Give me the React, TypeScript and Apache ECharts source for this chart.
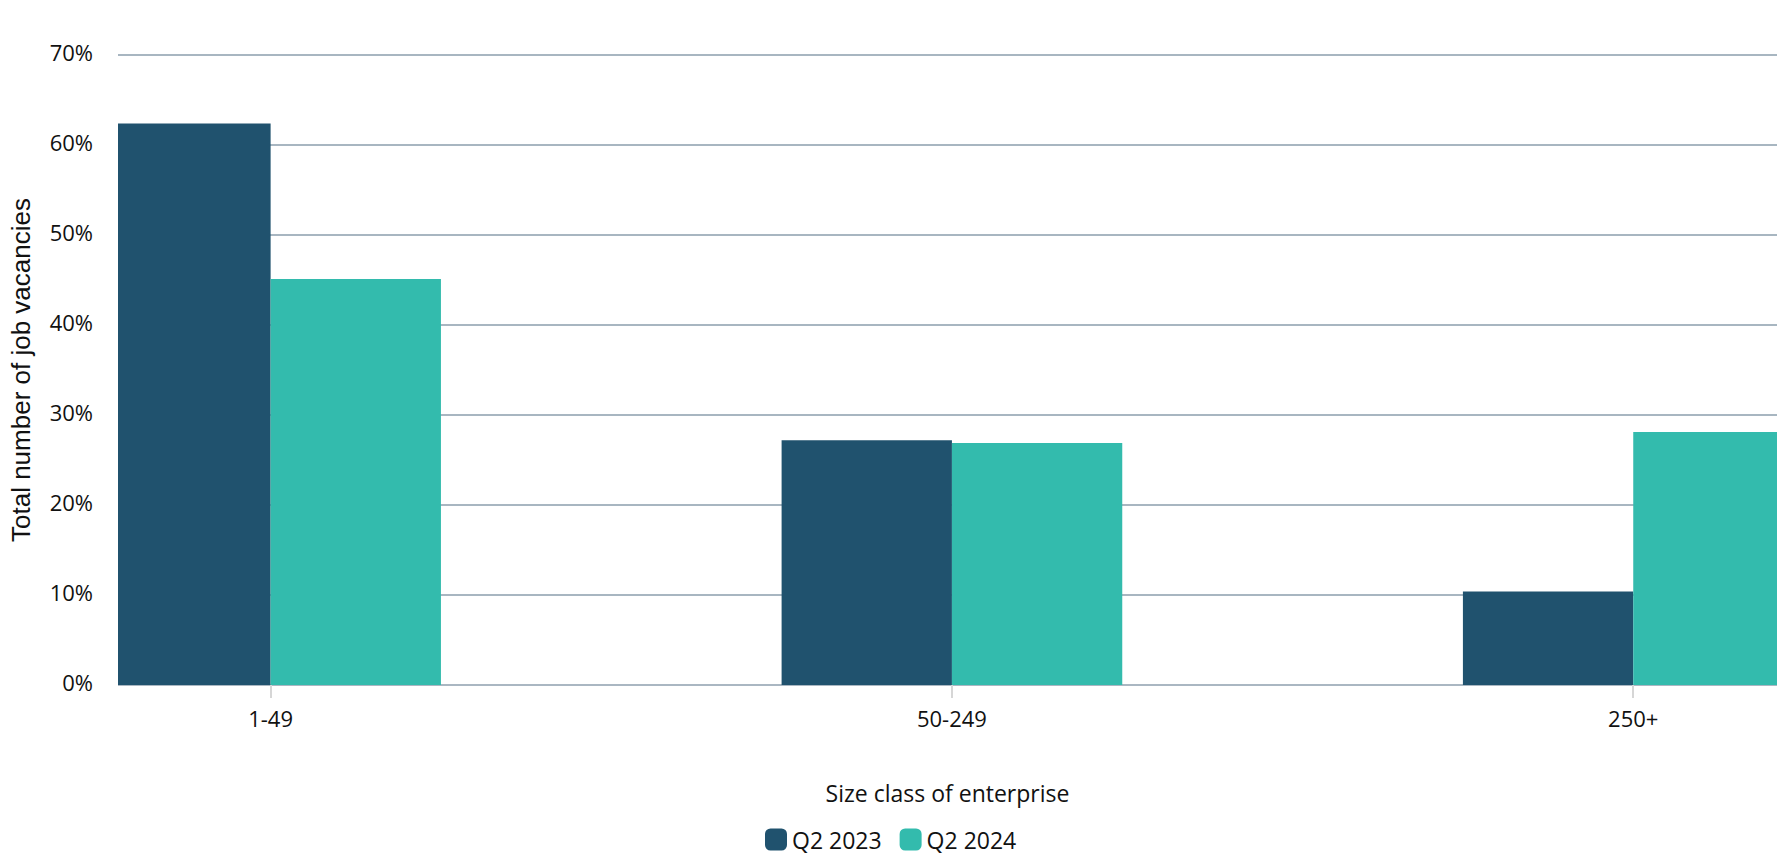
import React, { useEffect, useRef } from "react";
import * as echarts from "echarts";

const categories = ["1-49", "50-249", "250+"];
const categoryPositions = [0, 1, 2];
const seriesNames = ["Q2 2023", "Q2 2024"];
const q2023 = [62.4, 27.2, 10.4];
const q2024 = [45.1, 26.9, 28.1];
const yTicks = [0, 10, 20, 30, 40, 50, 60, 70];

const COLORS = ["#20526e", "#33bbad"];
const FONT = "'Open Sans', 'Noto Sans', sans-serif";
const X_MIN = -0.224;
const X_MAX = 2.211;

export default function App() {
  const ref = useRef<HTMLDivElement>(null);
  useEffect(() => {
    if (!ref.current) return;
    const chart = echarts.init(ref.current, null, { renderer: "svg" });
    const toPairs = (vals: number[]) => vals.map((v, i) => [categoryPositions[i], v]);
    chart.setOption({
      animation: false,
      backgroundColor: "#ffffff",
      textStyle: { fontFamily: FONT },
      grid: { left: 114, right: 0, top: 55, bottom: 175, containLabel: false },
      legend: {
        data: seriesNames,
        left: 760,
        top: 823,
        itemWidth: 22,
        itemHeight: 22,
        itemGap: 18,
        icon: "roundRect",
        textStyle: { fontSize: 23, color: "#111", fontFamily: FONT },
      },
      xAxis: {
        type: "value",
        min: X_MIN,
        max: X_MAX,
        splitNumber: 2,
        name: "Size class of enterprise",
        nameLocation: "middle",
        nameGap: 96,
        nameTextStyle: { fontSize: 23, color: "#111", fontFamily: FONT },
        axisLine: { show: true, lineStyle: { color: "#aab7c2", width: 2 } },
        axisTick: {
          show: true,
          customValues: categoryPositions,
          length: 13,
          lineStyle: { color: "#d6d6d6", width: 2 },
        },
        axisLabel: {
          customValues: categoryPositions,
          fontSize: 22,
          color: "#111",
          margin: 22,
          fontFamily: FONT,
          formatter: (v: number) => {
            const idx = categoryPositions.indexOf(Math.round(v));
            return Math.abs(v - Math.round(v)) < 1e-6 && idx >= 0 ? categories[idx] : "";
          },
        },
        splitLine: { show: false },
      },
      yAxis: {
        type: "value",
        min: yTicks[0],
        max: yTicks[yTicks.length - 1],
        interval: 10,
        name: "Total number of job vacancies",
        nameLocation: "middle",
        nameRotate: 90,
        nameGap: 84,
        nameTextStyle: { fontSize: 26, color: "#111", fontFamily: "'Liberation Sans', Arial, sans-serif" },
        axisLine: { show: false },
        axisTick: { show: false },
        axisLabel: {
          fontSize: 22,
          color: "#111",
          margin: 25,
          verticalAlign: "bottom",
          lineHeight: 7,
          fontFamily: FONT,
          formatter: "{value}%",
        },
        splitLine: { show: true, lineStyle: { color: "#a8b6c1", width: 2 } },
      },
      series: [
        {
          name: seriesNames[0],
          type: "bar",
          data: toPairs(q2023),
          barGap: "0%",
          barCategoryGap: "50%",
          itemStyle: { color: COLORS[0] },
        },
        {
          name: seriesNames[1],
          type: "bar",
          data: toPairs(q2024),
          barGap: "0%",
          barCategoryGap: "50%",
          itemStyle: { color: COLORS[1] },
        },
      ],
    });
    // Mask the part of the bars that spills left of the plot area (value base axis is not clipped).
    const bottomLeft = chart.convertToPixel({ xAxisIndex: 0, yAxisIndex: 0 }, [X_MIN, yTicks[0]]) as number[];
    const topLeft = chart.convertToPixel({ xAxisIndex: 0, yAxisIndex: 0 }, [X_MIN, yTicks[yTicks.length - 1]]) as number[];
    if (bottomLeft && topLeft) {
      const maskW = 24;
      chart.setOption({
        graphic: [
          {
            type: "rect",
            z: 100,
            silent: true,
            shape: {
              x: bottomLeft[0] - maskW,
              y: topLeft[1] - 2,
              width: maskW,
              height: bottomLeft[1] - topLeft[1] + 3,
            },
            style: { fill: "#ffffff" },
          },
        ],
      });
    }
    return () => chart.dispose();
  }, []);
  return (
    <div
      ref={ref}
      style={{ position: "fixed", left: 0, top: 0, width: 1777, height: 860, background: "#fff" }}
    />
  );
}
